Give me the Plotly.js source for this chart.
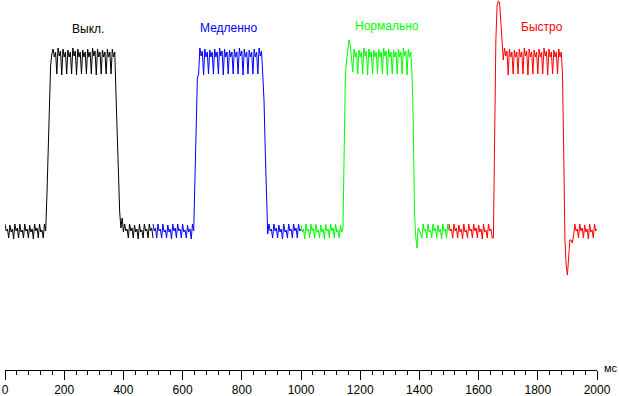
<!DOCTYPE html>
<html>
<head>
<meta charset="utf-8">
<script src="https://cdn.plot.ly/plotly-3.0.1.min.js"></script>
<style>html,body{margin:0;padding:0;background:#fff;}#chart{width:619px;height:396px;}</style>
</head>
<body>
<div id="chart"></div>
<script>
// Brightness samples (arbitrary units), one sample every 25/6 ms (4 per 60 Hz cycle)
const sampleStep = 25 / 6;
const segmentStarts = [0, 500, 1000, 1500];
const modeNames = ["Выкл.", "Медленно", "Нормально", "Быстро"];
const modeColors = ["#000000", "#0000ff", "#00ff00", "#ff0000"];

const offValues = [
  146,139,141,132, 145,138,141,131, 146,139,142,132, 146,138,140,132,
  146,139,141,132, 145,138,141,131, 146,139,142,132, 146,138,140,132, 146,139,
  175,225,275,305,316,
  321,313,318,296, 322,314,319,295, 321,313,318,296, 320,313,318,296,
  322,314,319,295, 321,313,318,296, 320,313,318,296, 321,313,318,296,
  322,314,319,295, 321,313,318,296, 320,313,318,296, 321,313,318,296, 321,313,318,
  275,230,180,158,142,152,138,
  146,139,141,132, 146,139,142,132, 145,138,141,131, 146,138,140,132,
  146,139,141,132, 146,139,142,132
];

const slowValues = [
  146,139,142,132, 146,139,141,132, 146,138,140,132, 145,138,141,131,
  146,139,142,132, 146,139,141,132, 146,138,140,132, 145,138,141,131, 146,139,
  190,260,292,296,
  322,314,319,295, 321,313,318,296, 320,313,318,296, 321,313,318,296,
  322,314,319,295, 321,313,318,296, 320,313,318,296, 321,313,318,296,
  322,314,319,295, 321,313,318,296, 320,313,318,296, 321,313,318,296,
  322,314,319,295,
  270,220,160,136,
  146,139,141,132, 146,139,142,132, 145,138,141,131, 146,138,140,132,
  146,139,141,132, 146,139,142,132, 146,139,141
];

const normalValues = [
  145,138,141,131, 146,139,141,132, 146,139,142,132, 146,138,140,132,
  145,138,141,131, 146,139,141,132, 146,139,142,132, 146,138,140,132, 145,138,141,
  220,295,310,320,330,324,308,298,
  321,313,318,296, 320,313,318,296, 322,314,319,295, 321,313,318,296,
  320,313,318,296, 321,313,318,296, 322,314,319,295, 321,313,318,296,
  320,313,318,296, 321,313,318,296, 322,314,319,295, 321,313,318,296,
  250,158,134,122,142,140,136,132,
  146,139,141,132, 146,138,140,132, 146,139,142,132, 145,138,141,131,
  146,139,141,132, 146,139
];

const fastValues = [
  146,139,141,132, 146,139,142,132, 145,138,141,131, 146,138,140,132,
  146,139,141,132, 146,139,142,132, 145,138,141,131, 146,138,140,132,
  146,139,141,132, 132,
  260,330,365,369,368,345,322,310,
  322,314,319,295, 321,313,318,296, 320,313,318,296, 321,313,318,296,
  322,314,319,295, 321,313,318,296, 320,313,318,296, 321,313,318,296,
  322,314,319,295, 321,313,318,296, 320,313,318,296, 321,313,318,296,
  220,130,105,95,112,130,130,127,134,
  146,139,141,132, 146,139,142,132, 145,138,141,131, 146,138,140,132,
  146,139,141
];

const xTickValues = [0, 200, 400, 600, 800, 1000, 1200, 1400, 1600, 1800, 2000];
const xTickLabels = ["0", "200", "400", "600", "800", "1000", "1200", "1400", "1600", "1800", "2000"];
const xUnit = "мс";
const labelX = [281, 755, 1291, 1815];
const labelY = [341, 342, 344, 343];

const series = [offValues, slowValues, normalValues, fastValues];
const traces = series.map((vals, k) => ({
  type: "scatter",
  mode: "lines",
  x0: segmentStarts[k],
  dx: sampleStep,
  y: vals,
  line: {color: modeColors[k], width: 1},
  hoverinfo: "skip"
}));

const fontFam = "Liberation Sans, Arial, sans-serif";
const annotations = modeNames.map((name, k) => ({
  x: labelX[k], y: labelY[k], xref: "x", yref: "y",
  text: name, showarrow: false,
  xanchor: "center", yanchor: "middle",
  font: {family: fontFam, size: 12, color: modeColors[k]}
}));
annotations.push({
  x: 1.0236, y: 0, xref: "paper", yref: "paper", text: xUnit, showarrow: false,
  xanchor: "center", yanchor: "middle", yshift: 2,
  font: {family: fontFam, size: 11, color: "#000"}
});

const layout = {
  width: 619, height: 396,
  margin: {l: 5, r: 22, t: 0, b: 26, pad: 0},
  paper_bgcolor: "#fff", plot_bgcolor: "#fff",
  showlegend: false, hovermode: false,
  font: {family: fontFam, size: 12, color: "#000"},
  xaxis: {
    range: [0, 2000], showgrid: false, zeroline: false,
    showline: true, linecolor: "#000", linewidth: 1,
    tickmode: "array", tickvals: xTickValues, ticktext: xTickLabels,
    ticks: "outside", ticklen: 9, tickwidth: 1, tickcolor: "#000",
    tickfont: {family: fontFam, size: 12, color: "#000"},
    minor: {dtick: 40, tick0: 0, ticks: "outside", ticklen: 4, tickwidth: 1, tickcolor: "#000", showgrid: false},
    fixedrange: true
  },
  yaxis: {range: [0, 370], visible: false, showgrid: false, zeroline: false, fixedrange: true},
  annotations: annotations
};

Plotly.newPlot("chart", traces, layout, {staticPlot: true, displayModeBar: false});
</script>
</body>
</html>
